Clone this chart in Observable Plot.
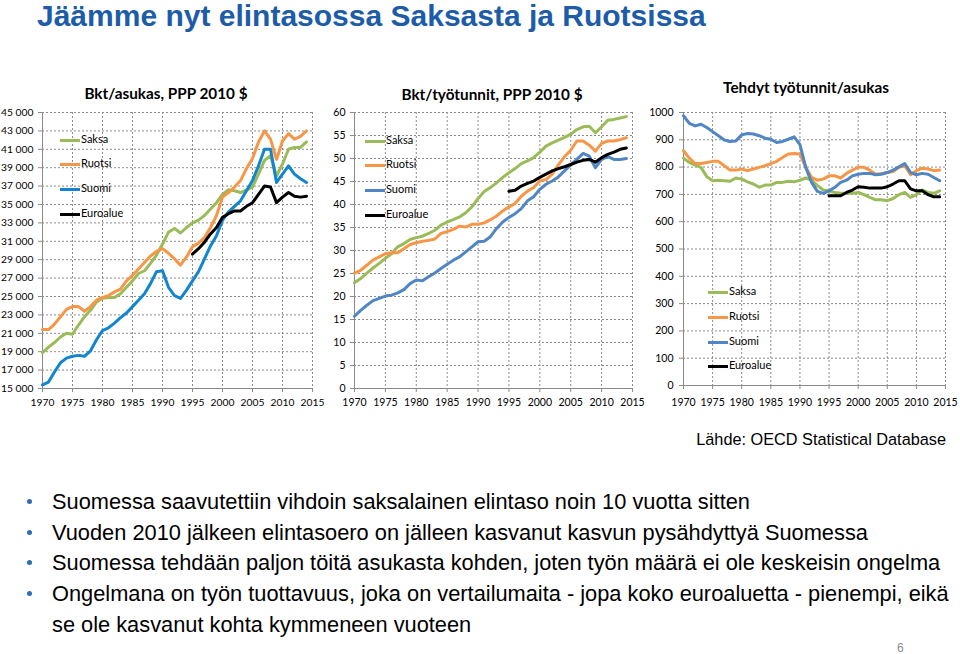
<!DOCTYPE html>
<html><head><meta charset="utf-8">
<script src="https://cdn.jsdelivr.net/npm/d3@7"></script>
<script src="https://cdn.jsdelivr.net/npm/@observablehq/plot@0.6"></script>
<style>
body{margin:0;background:#fff;}
#page{position:relative;width:960px;height:654px;overflow:hidden;font-family:"Liberation Sans",Arial,sans-serif;background:#fff;}
.abs{position:absolute;white-space:nowrap;}
.ptitle{position:absolute;font-family:Lato,sans-serif;font-weight:bold;font-size:15.3px;color:#000;transform:translateX(-50%);white-space:nowrap;line-height:20px;}
.leg{position:absolute;font-family:Lato,sans-serif;font-size:11px;color:#000;}
.leg div{position:absolute;left:0;height:14px;line-height:14px;white-space:nowrap;}
.leg span.sw{display:inline-block;width:20px;height:3px;vertical-align:middle;margin-right:1px;}
.bul{position:absolute;left:52px;font-size:21.8px;line-height:30px;color:#000;white-space:nowrap;}
.dot{position:absolute;left:27px;width:5px;height:5px;border-radius:50%;background:#2e6db4;}
</style></head><body><div id="page"></div>
<script>
// ---------- data ----------
const years = [1970,1971,1972,1973,1974,1975,1976,1977,1978,1979,1980,1981,1982,1983,1984,1985,1986,1987,1988,1989,1990,1991,1992,1993,1994,1995,1996,1997,1998,1999,2000,2001,2002,2003,2004,2005,2006,2007,2008,2009,2010,2011,2012,2013,2014];
const euroYears = [1995,1996,1997,1998,1999,2000,2001,2002,2003,2004,2005,2006,2007,2008,2009,2010,2011,2012,2013,2014];
const seriesNames = ["Saksa","Ruotsi","Suomi","Euroalue"];
const xTicks = [1970,1975,1980,1985,1990,1995,2000,2005,2010,2015];

// Bkt/asukas, PPP 2010 $
const gdpCapSaksa = [18900,19500,20000,20600,21000,20900,21900,22800,23500,24400,24800,24900,24900,25300,26000,26700,27500,27800,28600,29500,30700,32000,32400,31900,32500,33000,33300,33800,34500,35200,36100,36600,36500,36300,36600,36900,38300,39800,40300,38100,39400,41000,41200,41200,41800];
const gdpCapRuotsi = [21400,21400,22000,22800,23600,23900,23900,23400,23900,24600,24900,25100,25500,25800,26700,27300,28000,28700,29400,29900,30200,29700,29100,28400,29300,30400,30800,31400,32500,33800,35800,36300,36900,37600,38900,40000,41800,43000,42100,39900,41900,42700,42100,42400,43000];
const gdpCapSuomi = [15400,15700,16800,17800,18300,18500,18600,18500,19100,20300,21300,21600,22100,22700,23200,23900,24600,25300,26400,27700,27800,26000,25100,24800,25700,26700,27700,29100,30500,31600,33300,34200,34800,35400,36500,37600,39200,41000,41000,37400,38300,39200,38300,37800,37400];
const gdpCapEuro = [29600,30200,30900,31800,32500,33600,34000,34300,34300,34800,35200,36100,37000,36900,35200,35800,36300,35900,35800,35900];
const gdpCapTicks = [15000,17000,19000,21000,23000,25000,27000,29000,31000,33000,35000,37000,39000,41000,43000,45000];

// Bkt/työtunnit, PPP 2010 $
const gdpHourSaksa = [23.0,23.9,25.1,26.2,27.2,28.3,29.3,30.8,31.5,32.4,32.8,33.1,33.7,34.4,35.5,36.2,36.7,37.3,38.2,39.5,41.3,42.8,43.7,44.7,45.9,46.9,47.8,48.9,49.5,50.2,51.4,52.7,53.4,54.0,54.6,55.3,56.3,56.9,57.0,55.6,56.9,58.3,58.5,58.8,59.1];
const gdpHourRuotsi = [25.1,25.7,26.8,27.9,28.6,29.3,29.5,29.5,30.4,31.3,31.7,32.0,32.2,32.5,33.7,34.1,34.6,35.3,35.1,35.7,35.7,36.0,36.7,37.5,38.6,39.5,40.2,41.8,42.9,43.7,45.1,45.4,46.6,48.6,50.4,51.8,53.8,53.8,52.9,51.6,53.3,53.8,53.8,54.1,54.5];
const gdpHourSuomi = [15.7,17.0,18.1,19.1,19.6,20.1,20.3,20.8,21.5,22.8,23.6,23.4,24.3,25.1,26.1,27.0,27.9,28.6,29.7,30.8,31.9,32.0,33.0,34.8,36.2,37.2,38.0,39.1,40.8,41.7,43.3,44.4,45.1,46.0,47.3,48.6,49.8,51.1,50.5,48.0,49.8,50.4,49.8,49.8,50.0];
const gdpHourEuro = [42.9,43.1,44.0,44.6,45.1,45.9,46.6,47.3,47.8,48.2,48.7,49.2,49.6,49.8,49.2,50.2,50.9,51.4,52.0,52.3];
const gdpHourTicks = [0,5,10,15,20,25,30,35,40,45,50,55,60];

// Tehdyt työtunnit/asukas
const hoursSaksa = [833,817,807,799,765,750,752,750,748,760,756,746,738,726,734,734,744,744,748,746,752,760,752,732,716,713,707,704,704,704,707,699,689,680,680,677,685,699,707,689,699,716,707,704,713];
const hoursRuotsi = [860,833,813,813,817,821,821,805,789,789,793,787,793,799,805,813,821,835,848,850,848,799,762,752,756,768,768,760,777,789,799,799,789,774,777,780,784,799,805,772,787,796,793,787,789];
const hoursSuomi = [988,960,951,957,945,930,915,899,894,896,918,923,921,915,906,902,890,894,902,911,882,799,744,711,704,713,726,744,752,768,774,777,777,772,774,780,789,801,813,780,772,777,774,762,750];
const hoursEuro = [695,695,695,707,716,728,726,723,723,723,728,738,750,750,720,713,713,699,691,691];
const hoursTicks = [0,100,200,300,400,500,600,700,800,900,1000];

const titleText = "Jäämme nyt elintasossa Saksasta ja Ruotsissa";
const panelTitles = ["Bkt/asukas, PPP 2010 $","Bkt/työtunnit, PPP 2010 $","Tehdyt työtunnit/asukas"];
const sourceText = "Lähde: OECD Statistical Database";
const bullets = [
  "Suomessa saavutettiin vihdoin saksalainen elintaso noin 10 vuotta sitten",
  "Vuoden 2010 jälkeen elintasoero on jälleen kasvanut kasvun pysähdyttyä Suomessa",
  "Suomessa tehdään paljon töitä asukasta kohden, joten työn määrä ei ole keskeisin ongelma",
  "Ongelmana on työn tuottavuus, joka on vertailumaita - jopa koko euroaluetta - pienempi, eikä\nse ole kasvanut kohta kymmeneen vuoteen"
];
const pageNumber = "6";

// ---------- drawing ----------
const page = document.getElementById("page");
const GREEN = "#9bbb59", ORANGE = "#f79646", BLUE1 = "#1285cf", BLUE2 = "#4f86c3", BLACK = "#000";
const GRID = "#8c8c8c", AXIS = "#8a8a8a";

function el(tag, cls, css, text) {
  const e = document.createElement(tag);
  if (cls) e.className = cls;
  Object.assign(e.style, css || {});
  if (text != null) e.textContent = text;
  page.appendChild(e);
  return e;
}

function panel(cfg) {
  const series = [
    {xs: years, ys: cfg.saksa, color: GREEN},
    {xs: years, ys: cfg.ruotsi, color: ORANGE},
    {xs: years, ys: cfg.suomi, color: cfg.blue},
    {xs: euroYears, ys: cfg.euro, color: BLACK}
  ];
  const lo = cfg.yTicks[0], hi = cfg.yTicks[cfg.yTicks.length - 1];
  const svg = Plot.plot({
    width: cfg.w, height: cfg.h,
    marginLeft: cfg.ml, marginRight: cfg.mr, marginTop: cfg.mt, marginBottom: cfg.mb,
    style: {fontFamily: "Lato, sans-serif", fontSize: cfg.fs || "10.5px", color: "#000", background: "transparent", overflow: "visible"},
    x: {domain: [1970, 2015]},
    y: {domain: [lo, hi]},
    marks: [
      Plot.gridX({ticks: xTicks, stroke: GRID, strokeOpacity: 1, strokeDasharray: "2,2", strokeWidth: 1}),
      Plot.gridY({ticks: cfg.yTicks, stroke: GRID, strokeOpacity: 1, strokeDasharray: "2,2", strokeWidth: 1}),
      Plot.ruleX([1970], {stroke: AXIS, strokeWidth: 1}),
      Plot.ruleY([lo], {stroke: AXIS, strokeWidth: 1}),
      Plot.axisX({ticks: xTicks, tickFormat: d => String(d), tickSize: 4, tickPadding: cfg.xpad, stroke: AXIS, fill: "#000", label: null}),
      Plot.axisY({ticks: cfg.yTicks, tickFormat: cfg.fmt, tickSize: 4, tickPadding: cfg.ypad, stroke: AXIS, fill: "#000", label: null}),
      ...series.map(s => Plot.line(s.ys, {x: (d, i) => s.xs[i], y: d => d, stroke: s.color, strokeWidth: 3, strokeLinejoin: "round"}))
    ]
  });
  svg.style.position = "absolute";
  svg.style.left = cfg.left + "px";
  svg.style.top = cfg.top + "px";
  page.appendChild(svg);

  el("div", "ptitle", {left: cfg.tx + "px", top: (cfg.ty - 10) + "px"}, cfg.title);

  const leg = el("div", "leg", {left: cfg.lx + "px", top: "0px"});
  const colors = [GREEN, ORANGE, cfg.blue, BLACK];
  seriesNames.forEach((n, i) => {
    const row = document.createElement("div");
    row.style.top = (cfg.ly[i] - 7) + "px";
    const sw = document.createElement("span");
    sw.className = "sw";
    sw.style.background = colors[i];
    row.appendChild(sw);
    row.appendChild(document.createTextNode(n));
    leg.appendChild(row);
  });
}

const fmtSpace = d => d3.format(",")(d).replace(/,/g, " ");

panel({left: 0, top: 100, w: 330, h: 322, ml: 42, mr: 18, mt: 12, mb: 34, xpad: 6, ypad: 5, fs: "10.3px",
  saksa: gdpCapSaksa, ruotsi: gdpCapRuotsi, suomi: gdpCapSuomi, euro: gdpCapEuro,
  yTicks: gdpCapTicks, fmt: fmtSpace, blue: BLUE1,
  title: panelTitles[0], tx: 166, ty: 93, lx: 60, ly: [139, 163, 188, 213]});

panel({left: 330, top: 100, w: 320, h: 322, ml: 24, mr: 18, mt: 12, mb: 34, xpad: 6, ypad: 5,
  saksa: gdpHourSaksa, ruotsi: gdpHourRuotsi, suomi: gdpHourSuomi, euro: gdpHourEuro,
  yTicks: gdpHourTicks, fmt: d => String(d), blue: BLUE2,
  title: panelTitles[1], tx: 492, ty: 94, lx: 365, ly: [140, 164, 189, 214]});

panel({left: 640, top: 100, w: 320, h: 322, ml: 43, mr: 15, mt: 12, mb: 37, xpad: 9, ypad: 6,
  saksa: hoursSaksa, ruotsi: hoursRuotsi, suomi: hoursSuomi, euro: hoursEuro,
  yTicks: hoursTicks, fmt: d => String(d), blue: BLUE2,
  title: panelTitles[2], tx: 806, ty: 87, lx: 708, ly: [291, 316, 341, 365]});

// main title
el("div", "abs", {left: "37px", top: "-2px", fontSize: "30px", fontWeight: "bold", color: "#1d5ca8", lineHeight: "36px"}, titleText);
// source
el("div", "abs", {right: "14px", top: "429px", fontSize: "16.3px", lineHeight: "20px", color: "#000"}, sourceText);
// bullets
const bulletY = [502, 533, 563, 594];
bullets.forEach((b, i) => {
  const lines = b.split("\n");
  lines.forEach((ln, j) => {
    el("div", "bul", {top: (bulletY[i] + j * 30.5 - 15) + "px"}, ln);
  });
  el("div", "dot", {top: (bulletY[i] - 3) + "px"});
});
el("div", "abs", {left: "897px", top: "640px", fontSize: "12px", color: "#8c8c8c", lineHeight: "16px"}, pageNumber);
</script>
</body></html>
